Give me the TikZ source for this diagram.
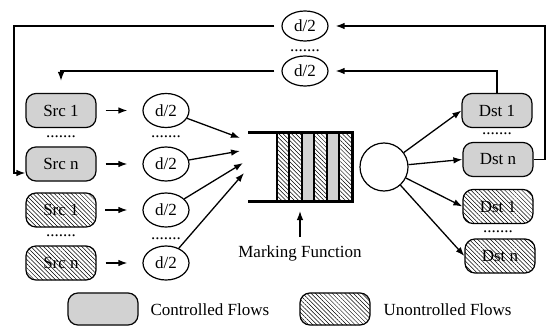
\documentclass[tikz,border=0pt]{standalone}
\usepackage{fontspec}
\setmainfont{Liberation Serif}
\usetikzlibrary{arrows.meta,patterns.meta,shapes.geometric,calc}
\begin{document}
\begin{tikzpicture}[x=1pt,y=-1pt,
  font=\fontsize{17}{20}\selectfont,
  line width=1.2pt,
  flowbox/.style={draw,rounded corners=10pt,minimum width=70pt,minimum height=34pt,inner sep=0pt},
  ctrl/.style={flowbox,fill=black!14,postaction={pattern={Dots[distance=2pt,radius=0.35pt]},pattern color=black!55}},
  unctrl/.style={flowbox,pattern={Lines[angle=-45,distance=3pt,line width=0.5pt]}},
  half/.style={draw,ellipse,minimum width=46pt,minimum height=34pt,inner sep=0pt},
  halftop/.style={half,minimum height=30pt},
  arr/.style={-{Latex[length=9pt,width=6.5pt]},line width=1.3pt},
  dotrow/.style={anchor=base,inner sep=0pt},
  hstripe/.style={pattern={Lines[angle=-45,distance=3pt,line width=0.5pt]}},
  dstripe/.style={fill=black!14,postaction={pattern={Dots[distance=2pt,radius=0.35pt]},pattern color=black!55}},
]
\useasboundingbox (0,0) rectangle (546,326);

% sources
\node[ctrl]   (s1) at (61,110.5) {Src 1};
\node[ctrl]   (sn) at (61,164)   {Src n};
\node[unctrl] (u1) at (61,210)   {Src 1};
\node[unctrl] (un) at (61,263)   {Src n};
\node[dotrow] (sd1) at (61,137.5) {.......};
\node[dotrow] (sd2) at (61,236.5) {.......};

% delay ellipses
\node[half] (e1) at (166,110.5) {d/2};
\node[half] (e2) at (166,164)   {d/2};
\node[half] (e3) at (166,210)   {d/2};
\node[half] (e4) at (166,263)   {d/2};
\node[dotrow] (ed1) at (166,137.5) {.......};
\node[dotrow] (ed2) at (166,239.5) {.......};

\foreach \s/\e in {s1/e1,sn/e2,u1/e3,un/e4}
  \draw[arr,shorten <=9pt,shorten >=15pt] (\s) -- (\e);

% queue
\path[hstripe] (277,133) rectangle (289,201);
\path[hstripe] (289,133) rectangle (302,201);
\path[dstripe] (302,133) rectangle (314,201);
\path[hstripe] (314,133) rectangle (327,201);
\path[dstripe] (327,133) rectangle (339,201);
\path[hstripe] (339,133) rectangle (352,201);
\foreach \x in {277,289,302,314,327,339}
  \draw[line width=1.8pt] (\x,133) -- (\x,201);
\draw[line width=3pt] (248,133) -- (352,133) -- (352,201) -- (248,201);

\coordinate (q1) at (240,138);
\coordinate (q2) at (240,151);
\coordinate (q3) at (243,163);
\coordinate (q4) at (244,173);
\draw[arr] (e1) -- (q1);
\draw[arr] (e2) -- (q2);
\draw[arr] (e3) -- (q3);
\draw[arr] (e4) -- (q4);

% marking function
\node (mf) at (300,253) {Marking Function};
\coordinate (mfa) at (300,237);
\coordinate (qb) at (300,211);
\draw[arr] (mfa) -- (qb);

% server
\node[draw,circle,minimum size=48pt,inner sep=0pt] (c) at (384,167) {};

% destinations
\node[ctrl]   (d1) at (497,110.5) {Dst 1};
\node[ctrl]   (dn) at (498,159.5) {Dst n};
\node[unctrl] (h1) at (498,206.5) {Dst 1};
\node[unctrl] (hn) at (500,256)   {Dst n};
\node[dotrow] (dd1) at (497,135) {.......};
\node[dotrow] (dd2) at (498,232) {.......};

\draw[arr] (c) -- (d1.west);
\draw[arr] (c) -- (dn.west);
\draw[arr] (c) -- (h1.west);
\draw[arr] (c) -- (hn.west);

% feedback delays
\node[halftop] (t1) at (305,26) {d/2};
\node[halftop] (t2) at (305,71) {d/2};
\node[dotrow] (td) at (305,52) {.......};

\coordinate (rt) at (545,26);
\coordinate (lb) at (14,173);
\coordinate (snin) at ([yshift=-9pt]sn.west);
\draw[arr,shorten >=7pt] (dn.east) -| (rt) -- (t1.east);
\draw[arr] ([xshift=-7pt]t1.west) -| (lb) -- (snin);
\draw[arr,shorten >=7pt] (d1.north) |- (t2.east);
\draw[arr,shorten >=12pt] ([xshift=-7pt]t2.west) -| (s1.north);

% legend
\node[ctrl,minimum height=32pt]   (lc) at (103,309) {};
\node[anchor=west,inner sep=0pt]  (lct) at (150,310) {Controlled Flows};
\node[unctrl,minimum height=32pt] (lu) at (335,309) {};
\node[anchor=west,inner sep=0pt]  (lut) at (383,310) {Unontrolled Flows};
\end{tikzpicture}
\end{document}
